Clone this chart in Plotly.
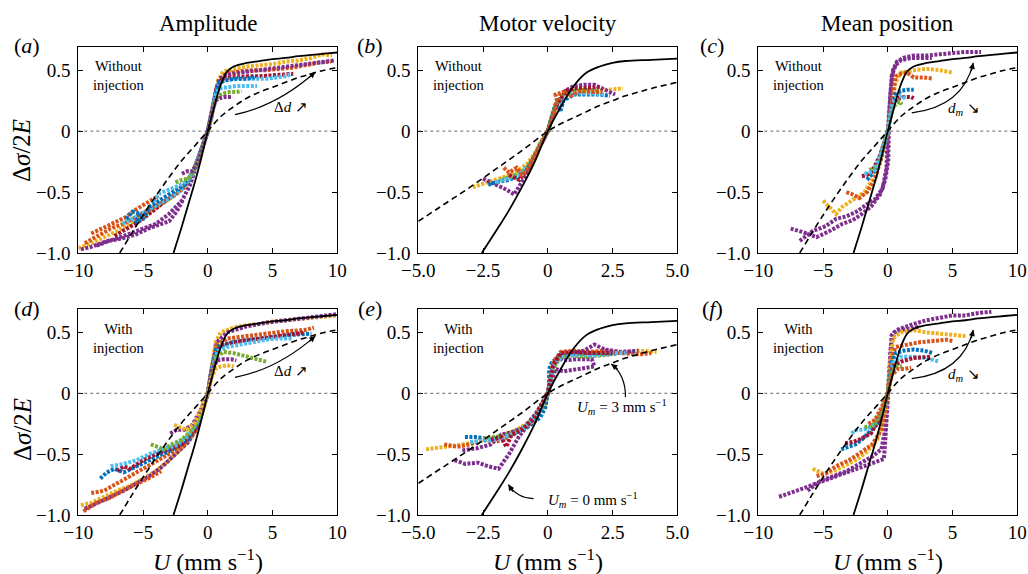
import plotly.graph_objects as go
from plotly.subplots import make_subplots

FONT = "Liberation Serif, Times New Roman, serif"
COL = {"blue": "#0072BD", "orange": "#D95319", "yellow": "#EDB120", "purple": "#7E2F8E",
       "green": "#77AC30", "lblue": "#4DBEEE", "red": "#A2142F"}

# ---------------- model curves ----------------
solid_wide = [(-2.65, -1), (-2, -0.78), (-1.5, -0.6), (-1, -0.42), (-0.5, -0.22), (0, 0), (0.5, 0.2),
              (1, 0.38), (1.5, 0.49), (2, 0.53), (3, 0.56), (4, 0.575), (5, 0.59), (6, 0.6),
              (7, 0.615), (8, 0.625), (9, 0.635), (10, 0.645)]
dash_wide = [(-6.8, -1), (-6, -0.86), (-5, -0.69), (-4, -0.53), (-3, -0.38), (-2, -0.24), (-1, -0.12),
             (0, 0), (1, 0.12), (2, 0.2), (3, 0.27), (4, 0.32), (5, 0.36), (6, 0.4), (7, 0.44),
             (8, 0.47), (9, 0.5), (10, 0.52)]
solid_vel = [(-2.55, -1), (-2, -0.82), (-1.5, -0.65), (-1, -0.46), (-0.5, -0.25), (0, 0), (0.5, 0.2),
             (1, 0.37), (1.5, 0.48), (2, 0.53), (2.5, 0.56), (3, 0.575), (4, 0.585), (5, 0.595)]
dash_vel = [(-5, -0.74), (-4, -0.6), (-3, -0.46), (-2, -0.31), (-1, -0.16), (0, 0), (0.5, 0.06),
            (1, 0.11), (1.5, 0.16), (2, 0.21), (2.5, 0.25), (3, 0.29), (3.5, 0.32), (4, 0.35), (5, 0.4)]

# ---------------- measured trajectories (colour, points) ----------------
panel_a = [
    ("yellow", [(-10, -0.96), (-9, -0.92), (-8, -0.87), (-7, -0.82), (-6, -0.76), (-5, -0.69), (-4, -0.63), (-3, -0.56), (-2.2, -0.5), (-1.6, -0.44), (-1, -0.3), (-0.5, -0.15), (0, 0), (0.3, 0.13), (0.55, 0.28), (0.8, 0.42), (1.2, 0.49), (2, 0.51), (3, 0.53), (4, 0.54), (5, 0.55), (6, 0.57), (7, 0.58), (8, 0.6), (8.8, 0.63), (9.6, 0.62)]),
    ("orange", [(-9.5, -0.92), (-8.5, -0.86), (-7.5, -0.8), (-6.5, -0.76), (-5.5, -0.7), (-4.5, -0.64), (-3.5, -0.58), (-2.6, -0.53), (-1.8, -0.46), (-1.1, -0.32), (-0.6, -0.18), (0, 0), (0.3, 0.12), (0.6, 0.3), (0.9, 0.42), (1.4, 0.47), (2.5, 0.49), (3.5, 0.5), (4.5, 0.5), (5.5, 0.51), (6.5, 0.52), (7.5, 0.54), (8.5, 0.56), (9.5, 0.57)]),
    ("orange", [(-9, -0.84), (-8.2, -0.8), (-7.3, -0.76), (-6.4, -0.71), (-5.5, -0.64), (-4.6, -0.58), (-3.8, -0.53)]),
    ("purple", [(-9.8, -0.97), (-9, -0.95), (-8, -0.91), (-7, -0.88), (-6, -0.84), (-5, -0.8), (-4, -0.76), (-3, -0.68), (-2, -0.57), (-1.4, -0.45), (-0.9, -0.3), (-0.4, -0.13), (0, 0), (0.3, 0.15), (0.6, 0.32), (0.9, 0.43), (1.5, 0.46), (2.5, 0.48), (4, 0.5), (5, 0.51), (6, 0.53), (7, 0.54), (8, 0.55), (9, 0.57), (9.8, 0.58)]),
    ("purple", [(-8.6, -0.94), (-7.6, -0.9), (-6.6, -0.88), (-5.6, -0.85), (-4.6, -0.8), (-3.8, -0.77), (-3, -0.74), (-2.4, -0.66), (-1.9, -0.56)]),
    ("red", [(-7.2, -0.86), (-6.3, -0.8), (-5.3, -0.74), (-4.3, -0.66), (-3.3, -0.58), (-2.4, -0.5), (-1.6, -0.43), (-1, -0.3), (-0.5, -0.15), (0, 0), (0.3, 0.14), (0.7, 0.36), (1.1, 0.43), (2, 0.44), (3, 0.45), (4, 0.45), (5, 0.46), (6, 0.47), (6.6, 0.47)]),
    ("lblue", [(-6.6, -0.76), (-5.8, -0.72), (-4.8, -0.66), (-3.8, -0.6), (-2.8, -0.54), (-1.9, -0.47), (-1.2, -0.36), (-0.6, -0.18), (0, 0), (0.4, 0.18), (0.8, 0.38), (1.3, 0.42), (2.5, 0.43), (3.5, 0.43), (4.5, 0.43), (5.3, 0.44), (6, 0.45), (6.5, 0.47)]),
    ("blue", [(-6.3, -0.72), (-5.8, -0.66), (-5.2, -0.68), (-5.6, -0.75), (-5, -0.72), (-4.5, -0.62), (-3.6, -0.56), (-2.7, -0.5), (-1.8, -0.44), (-1.1, -0.33), (-0.5, -0.16), (0, 0), (0.3, 0.14), (0.6, 0.3), (0.9, 0.4), (1.5, 0.42), (2.2, 0.43), (3, 0.43), (3.6, 0.44)]),
    ("lblue", [(-4.2, -0.58), (-3.7, -0.51), (-3, -0.48), (-2.3, -0.45), (-1.6, -0.41), (-1, -0.3), (-0.5, -0.15), (0, 0), (0.3, 0.14), (0.6, 0.3), (0.9, 0.35), (1.5, 0.36), (2.2, 0.37), (3, 0.37), (3.8, 0.37)]),
    ("green", [(-2.5, -0.42), (-2, -0.4), (-1.5, -0.39), (-1, -0.31), (-0.5, -0.16), (0, 0), (0.3, 0.14), (0.5, 0.24), (0.8, 0.29), (1.2, 0.31), (1.7, 0.32), (2.2, 0.32), (2.6, 0.33)]),
    ("purple", [(-2, -0.35), (-1.6, -0.33), (-1.2, -0.33), (-0.8, -0.26), (-0.4, -0.13), (0, 0), (0.3, 0.15), (0.6, 0.25), (0.9, 0.27), (1.3, 0.28), (1.8, 0.28)]),
]

panel_b = [
    ("yellow", [(-2.9, -0.46), (-2.6, -0.44), (-2.3, -0.42), (-2, -0.4), (-1.6, -0.37), (-1.2, -0.33), (-0.8, -0.27), (-0.4, -0.15), (0, 0), (0.2, 0.12), (0.4, 0.25), (0.7, 0.31), (1.2, 0.32), (1.8, 0.33), (2.4, 0.34), (2.9, 0.35)]),
    ("purple", [(-2.5, -0.39), (-2.2, -0.42), (-1.9, -0.45), (-1.6, -0.48), (-1.3, -0.52), (-1.1, -0.45), (-0.8, -0.35), (-0.4, -0.16), (0, 0), (0.3, 0.2), (0.6, 0.32), (1, 0.37), (1.4, 0.38), (1.8, 0.38), (2.2, 0.34), (2.6, 0.3)]),
    ("blue", [(-2.3, -0.44), (-2, -0.42), (-1.5, -0.4), (-1, -0.36), (-0.6, -0.25), (-0.3, -0.12), (0, 0), (0.15, 0.12), (0.3, 0.22), (0.5, 0.17), (0.6, 0.25), (1, 0.3), (1.5, 0.3), (2, 0.3), (2.4, 0.29)]),
    ("green", [(-1.8, -0.4), (-1.4, -0.37), (-1, -0.34), (-0.6, -0.24), (-0.3, -0.1), (0, 0), (0.3, 0.22), (0.6, 0.3), (1, 0.33), (1.5, 0.34), (2, 0.33)]),
    ("lblue", [(-2, -0.42), (-1.6, -0.39), (-1.1, -0.36), (-0.7, -0.27), (-0.3, -0.12), (0, 0), (0.3, 0.2), (0.7, 0.29), (1.2, 0.31), (1.7, 0.31), (2.2, 0.3)]),
    ("red", [(-1.5, -0.36), (-1.1, -0.4), (-0.8, -0.32), (-0.4, -0.16), (0, 0), (0.3, 0.2), (0.7, 0.33), (1.1, 0.35), (1.6, 0.36), (2, 0.36)]),
    ("orange", [(-1.7, -0.3), (-1.5, -0.34), (-1.2, -0.3), (-1, -0.36), (-0.8, -0.32), (-0.5, -0.2), (-0.2, -0.08), (0, 0), (0.2, 0.12), (0.35, 0.25), (0.3, 0.3), (0.6, 0.32), (0.9, 0.29), (1.3, 0.33), (1.7, 0.32), (2.1, 0.32)]),
]

panel_c = [
    ("purple", [(-7.5, -0.8), (-6.5, -0.83), (-5.5, -0.87), (-4.5, -0.82), (-3.5, -0.76), (-2.7, -0.73), (-2, -0.68), (-1.3, -0.62), (-0.6, -0.52), (-0.2, -0.4), (0.03, -0.25), (0.05, -0.1), (0.1, 0.1), (0.2, 0.3), (0.4, 0.5), (0.7, 0.57), (1.2, 0.6), (2, 0.62), (3, 0.62), (4, 0.63), (5, 0.64), (6, 0.65), (7.2, 0.65)]),
    ("purple", [(-6.8, -0.9), (-5.8, -0.82), (-4.8, -0.78), (-4, -0.72), (-3.2, -0.7), (-2.4, -0.66), (-1.6, -0.6), (-1, -0.56), (-0.4, -0.47), (-0.1, -0.3), (0, 0), (0.15, 0.25), (0.3, 0.45), (0.6, 0.54), (1, 0.58), (1.8, 0.6), (2.6, 0.6), (3.4, 0.6)]),
    ("yellow", [(-5, -0.57), (-4.5, -0.62), (-4, -0.68), (-3.5, -0.62), (-3, -0.58), (-2.5, -0.55), (-1.8, -0.5), (-1.2, -0.4), (-0.6, -0.25), (0, 0), (0.3, 0.2), (0.6, 0.4), (1, 0.48), (2, 0.5), (3, 0.51), (4, 0.5), (5, 0.48)]),
    ("orange", [(-3.2, -0.5), (-2.7, -0.52), (-2.2, -0.55), (-1.6, -0.5), (-1, -0.4), (-0.5, -0.22), (0, 0), (0.3, 0.25), (0.6, 0.45), (1, 0.47), (1.5, 0.48), (2, 0.44), (2.8, 0.44), (3.5, 0.43)]),
    ("blue", [(-1.6, -0.4), (-1.2, -0.35), (-0.8, -0.28), (-0.4, -0.15), (0, 0), (0.3, 0.2), (0.6, 0.3), (1, 0.33), (1.5, 0.34), (2, 0.34)]),
    ("red", [(-2, -0.37), (-1.6, -0.36), (-1.2, -0.33), (-0.6, -0.2), (0, 0), (0.4, 0.22), (0.8, 0.27), (1.3, 0.28), (1.8, 0.28), (2, 0.27)]),
    ("green", [(-1.4, -0.32), (-1.1, -0.3), (-0.8, -0.3), (-0.4, -0.15), (0, 0), (0.3, 0.17), (0.6, 0.22), (0.9, 0.24), (1.1, 0.22)]),
    ("lblue", [(-1.8, -0.35), (-1.4, -0.34), (-1, -0.32), (-0.5, -0.18), (0, 0), (0.3, 0.2), (0.7, 0.28), (1.1, 0.29), (1.4, 0.26)]),
]

panel_d = [
    ("yellow", [(-9.8, -0.92), (-9, -0.9), (-8, -0.85), (-7, -0.8), (-6, -0.76), (-5, -0.7), (-4, -0.64), (-3, -0.55), (-2, -0.45), (-1.2, -0.35), (-0.6, -0.2), (0, 0), (0.3, 0.2), (0.6, 0.42), (1, 0.5), (2, 0.54), (3, 0.56), (4, 0.57), (5, 0.59), (6, 0.6), (7, 0.61), (8, 0.62), (9, 0.63), (10, 0.64)]),
    ("purple", [(-9.5, -0.95), (-8.5, -0.9), (-7.5, -0.85), (-6.5, -0.8), (-5.5, -0.74), (-4.5, -0.68), (-3.5, -0.6), (-2.5, -0.5), (-1.5, -0.4), (-0.8, -0.28), (0, 0), (0.3, 0.2), (0.7, 0.42), (1.5, 0.5), (3, 0.55), (4.5, 0.58), (6, 0.6), (7.5, 0.62), (9, 0.64), (10, 0.65)]),
    ("orange", [(-9, -0.82), (-8, -0.8), (-7, -0.74), (-6, -0.68), (-5, -0.62), (-4, -0.56), (-3, -0.5), (-2, -0.44), (-1, -0.32), (-0.4, -0.15), (0, 0), (0.3, 0.2), (0.7, 0.4), (1.5, 0.45), (3, 0.47), (4.5, 0.49), (6, 0.51), (7.5, 0.52), (8.2, 0.54)]),
    ("orange", [(-9.6, -0.97), (-8.6, -0.9), (-7.6, -0.86), (-6.6, -0.8), (-5.6, -0.75), (-4.6, -0.7), (-3.6, -0.64)]),
    ("blue", [(-8.3, -0.7), (-7.8, -0.65), (-7.2, -0.62), (-6.5, -0.65), (-5.5, -0.6), (-4.5, -0.55), (-3.5, -0.5), (-2.5, -0.45), (-1.5, -0.38), (-0.8, -0.25), (0, 0), (0.3, 0.2), (0.7, 0.38), (1.5, 0.41), (2.5, 0.43), (3.5, 0.44), (5, 0.46), (6.5, 0.48), (8, 0.49)]),
    ("red", [(-7, -0.64), (-6.5, -0.6), (-6, -0.62), (-5, -0.55), (-4, -0.5), (-3, -0.46), (-2, -0.42), (-1, -0.3), (0, 0), (0.4, 0.22), (0.9, 0.38), (2, 0.42), (3.5, 0.44), (5, 0.46), (6.5, 0.48), (7.5, 0.5)]),
    ("lblue", [(-7.5, -0.6), (-6.5, -0.58), (-5.5, -0.55), (-4.5, -0.5), (-3.5, -0.46), (-2.5, -0.43), (-1.5, -0.35), (-0.7, -0.22), (0, 0), (0.3, 0.2), (0.8, 0.35), (1.5, 0.38), (2.5, 0.4), (3.5, 0.42), (4.5, 0.44), (5.5, 0.45), (6.5, 0.45)]),
    ("green", [(-4.4, -0.42), (-3.9, -0.44), (-3.4, -0.46), (-2.8, -0.42), (-2, -0.38), (-1.2, -0.3), (-0.5, -0.18), (0, 0), (0.3, 0.18), (0.7, 0.3), (1.2, 0.34), (2, 0.33), (3, 0.3), (4, 0.27), (4.5, 0.26)]),
    ("purple", [(-2.9, -0.33), (-2.4, -0.3), (-1.8, -0.3), (-1.2, -0.26), (-0.6, -0.15), (0, 0), (0.3, 0.18), (0.7, 0.27), (1.2, 0.28), (1.8, 0.28), (2.2, 0.27)]),
    ("yellow", [(-2.6, -0.26), (-2.1, -0.28), (-1.6, -0.3), (-1, -0.24), (-0.5, -0.13), (0, 0), (0.3, 0.13), (0.6, 0.2), (1, 0.22), (1.5, 0.23), (2, 0.22)]),
]

panel_e = [
    ("yellow", [(-4.7, -0.46), (-4.2, -0.45), (-3.6, -0.43), (-3, -0.41), (-2.4, -0.38), (-1.8, -0.35), (-1.2, -0.3), (-0.6, -0.22), (-0.1, -0.1), (0, 0), (0.1, 0.15), (0.3, 0.28), (0.8, 0.33), (1.5, 0.34), (2.3, 0.34), (3, 0.34), (3.6, 0.35), (4.2, 0.34)]),
    ("blue", [(-3.2, -0.36), (-2.8, -0.36), (-2.4, -0.37), (-1.9, -0.36), (-1.4, -0.33), (-0.8, -0.28), (-0.3, -0.2), (-0.1, -0.12), (-0.05, -0.06), (0.05, 0.05), (0.05, 0.2), (0.15, 0.25), (0.5, 0.32), (1, 0.32), (1.6, 0.33), (2.2, 0.32), (2.8, 0.33), (3.4, 0.34)]),
    ("orange", [(-4, -0.42), (-3.5, -0.44), (-3, -0.42), (-2.5, -0.38), (-2, -0.4), (-1.5, -0.36), (-1, -0.3), (-0.5, -0.22), (0, 0), (0.2, 0.25), (0.5, 0.34), (1, 0.35), (1.6, 0.34), (2.2, 0.35), (2.8, 0.33), (3.5, 0.32), (4, 0.33)]),
    ("purple", [(-3.6, -0.55), (-3.2, -0.58), (-2.7, -0.57), (-2.3, -0.6), (-1.9, -0.62), (-1.5, -0.5), (-1.1, -0.35), (-0.6, -0.22), (0, 0), (0.3, 0.28), (0.8, 0.32), (1.4, 0.35), (1.8, 0.4), (2.2, 0.36), (2.8, 0.34), (3.5, 0.35)]),
    ("purple", [(-3.3, -0.47), (-2.7, -0.45), (-2.2, -0.42), (-1.8, -0.34), (-1.4, -0.32), (-0.9, -0.28), (-0.4, -0.15), (0, 0), (0.3, 0.2), (0.6, 0.18), (1.2, 0.2), (1.8, 0.22), (1.7, 0.28), (1.1, 0.28), (0.6, 0.27), (0.4, 0.3)]),
    ("green", [(-2.5, -0.37), (-2, -0.36), (-1.5, -0.34), (-1, -0.3), (-0.5, -0.2), (0, 0), (0.2, 0.2), (0.5, 0.3), (1, 0.31), (1.5, 0.3), (2, 0.31), (2.5, 0.32)]),
    ("lblue", [(-3, -0.4), (-2.5, -0.39), (-2, -0.38), (-1.5, -0.35), (-1, -0.3), (-0.4, -0.18), (0, 0), (0.2, 0.22), (0.6, 0.31), (1.2, 0.32), (1.8, 0.31), (2.5, 0.33), (3, 0.33)]),
    ("red", [(-2.2, -0.38), (-1.8, -0.36), (-1.6, -0.44), (-1.4, -0.34), (-1, -0.3), (-0.5, -0.2), (0, 0), (0.2, 0.22), (0.5, 0.33), (1, 0.34), (1.5, 0.33), (2, 0.33), (2.5, 0.33)]),
]

panel_f = [
    ("purple", [(-8.4, -0.85), (-7.5, -0.82), (-6.5, -0.78), (-5.5, -0.74), (-4.5, -0.7), (-3.5, -0.66), (-2.5, -0.62), (-1.5, -0.58), (-0.8, -0.56), (-0.3, -0.54), (-0.2, -0.4), (-0.1, -0.2), (0, 0), (0.15, 0.25), (0.3, 0.48), (0.7, 0.52), (1.2, 0.54), (2, 0.57), (3, 0.6), (4, 0.62), (5, 0.64), (6, 0.64), (7, 0.66), (8, 0.67)]),
    ("purple", [(-6.2, -0.8), (-5.2, -0.72), (-4.2, -0.68), (-3.2, -0.64), (-2.2, -0.58), (-1.2, -0.52), (-0.5, -0.46), (-0.2, -0.3), (0, 0), (0.25, 0.4), (0.5, 0.5), (1, 0.52), (1.8, 0.53), (2.5, 0.55)]),
    ("yellow", [(-5.8, -0.62), (-5, -0.66), (-4.2, -0.64), (-3.5, -0.6), (-2.5, -0.55), (-1.6, -0.48), (-0.8, -0.38), (-0.3, -0.2), (0, 0), (0.2, 0.25), (0.4, 0.45), (1, 0.5), (2, 0.52), (3, 0.5), (4, 0.49), (5, 0.48), (6, 0.47)]),
    ("orange", [(-5.5, -0.68), (-4.8, -0.66), (-4, -0.6), (-3, -0.55), (-2, -0.48), (-1.2, -0.42), (-0.5, -0.3), (0, 0), (0.3, 0.3), (0.6, 0.38), (1.5, 0.4), (2.5, 0.42), (3.5, 0.43), (4.5, 0.44), (5, 0.43)]),
    ("blue", [(-3.6, -0.46), (-3, -0.44), (-2.5, -0.42), (-2, -0.38), (-1.4, -0.32), (-0.8, -0.25), (-0.3, -0.12), (0, 0), (0.3, 0.25), (0.6, 0.33), (1.2, 0.35), (2, 0.36), (2.8, 0.35), (3.5, 0.33)]),
    ("lblue", [(-2.8, -0.33), (-2.4, -0.3), (-1.9, -0.3), (-1.3, -0.28), (-0.7, -0.2), (0, 0), (0.4, 0.25), (1, 0.3), (2, 0.3), (3, 0.29), (3.6, 0.27), (4, 0.26)]),
    ("red", [(-3.3, -0.41), (-2.7, -0.4), (-2.2, -0.38), (-1.8, -0.36), (-1.3, -0.33), (-0.7, -0.22), (0, 0), (0.4, 0.22), (1, 0.26), (2, 0.29), (2.8, 0.3), (3.3, 0.3)]),
    ("green", [(-1.8, -0.28), (-1.4, -0.27), (-1, -0.25), (-0.5, -0.15), (0, 0), (0.3, 0.18), (0.7, 0.22), (1.1, 0.22)]),
    ("orange", [(-1.5, -0.25), (-1, -0.22), (-0.5, -0.12), (0, 0), (0.3, 0.15), (0.8, 0.2), (1.3, 0.2), (1.8, 0.21)]),
]

column_titles = ["Amplitude", "Motor velocity", "Mean position"]
panel_letters = ["a", "b", "c", "d", "e", "f"]
wide_ticks = [-10, -5, 0, 5, 10]
wide_ticktext = ["\u221210", "\u22125", "0", "5", "10"]
vel_ticks = [-5, -2.5, 0, 2.5, 5]
vel_ticktext = ["\u22125.0", "\u22122.5", "0", "2.5", "5.0"]
y_ticks = [-1, -0.5, 0, 0.5]
y_ticktext = ["\u22121.0", "\u22120.5", "0", "0.5"]

# ---------------- figure ----------------
W, H = 1028, 574
fig = make_subplots(rows=2, cols=3)

col_px = [(78.3, 337.3), (418.3, 677.3), (758.3, 1017.3)]
row_px = [(47.0, 253.0), (309.3, 515.0)]


def ann(**kw):
    kw.setdefault("xanchor", "center")
    kw.setdefault("yanchor", "middle")
    kw.setdefault("showarrow", False)
    fig.add_annotation(**kw)


panels = [panel_a, panel_b, panel_c, panel_d, panel_e, panel_f]
for i, series in enumerate(panels):
    r, c = i // 3 + 1, i % 3 + 1
    for cname, pts in series:
        fig.add_trace(go.Scatter(x=[p[0] for p in pts], y=[p[1] for p in pts], mode="lines",
                                 line=dict(color=COL[cname], width=4, dash="3px,1.5px"),
                                 showlegend=False, hoverinfo="skip"), row=r, col=c)
    vel = (c == 2)
    sol = solid_vel if vel else solid_wide
    dsh = dash_vel if vel else dash_wide
    fig.add_trace(go.Scatter(x=[p[0] for p in dsh], y=[p[1] for p in dsh], mode="lines",
                             line=dict(color="black", width=1.6, dash="6px,4px", shape="spline"),
                             showlegend=False), row=r, col=c)
    fig.add_trace(go.Scatter(x=[p[0] for p in sol], y=[p[1] for p in sol], mode="lines",
                             line=dict(color="black", width=1.8, shape="spline"),
                             showlegend=False), row=r, col=c)

for i in range(6):
    r, c = i // 3, i % 3
    n = "" if i == 0 else str(i + 1)
    vel = (c == 1)
    x0, x1 = col_px[c]
    y0, y1 = row_px[r]
    fig.layout["xaxis" + n].update(
        domain=[x0 / W, x1 / W], range=[-5, 5] if vel else [-10, 10], automargin=False,
        tickvals=vel_ticks if vel else wide_ticks, ticktext=vel_ticktext if vel else wide_ticktext,
        showline=True, mirror="ticks", linecolor="black", linewidth=1, ticks="inside", ticklen=5,
        tickcolor="black", showgrid=False, zeroline=False,
        tickfont=dict(family=FONT, size=19, color="black"))
    fig.layout["yaxis" + n].update(
        domain=[1 - y1 / H, 1 - y0 / H], range=[-1, 0.69], automargin=False,
        tickvals=y_ticks, ticktext=y_ticktext,
        showline=True, mirror="ticks", linecolor="black", linewidth=1, ticks="inside", ticklen=5,
        tickcolor="black", showgrid=False, zeroline=False, ticklabelstandoff=3,
        tickfont=dict(family=FONT, size=19, color="black"))
    xr, yr = "x" + n, "y" + n
    fig.add_shape(type="line", xref=xr + " domain", yref=yr, x0=0, x1=1, y0=0, y1=0,
                  line=dict(color="#444", width=0.8, dash="dot"))
    # panel letter
    lx = [27, 370, 712][c]
    ly = [45, 308][r]
    ann(xref="paper", yref="paper", x=lx / W, y=1 - ly / H,
        text="(<i>%s</i>)" % panel_letters[i], font=dict(family=FONT, size=22, color="black"))
    # injection label
    tx = -3.46 if vel else -6.9
    ann(xref=xr, yref=yr, x=tx, y=0.46 if r == 0 else 0.45,
        text="Without<br>injection" if r == 0 else "With<br>injection",
        align="center", font=dict(family=FONT, size=14.5, color="black"))

# column titles / x titles
for c in range(3):
    x0, x1 = col_px[c]
    ann(xref="paper", yref="paper", x=(x0 + x1) / 2 / W, y=1 - 24 / H, text=column_titles[c],
        font=dict(family=FONT, size=23, color="black"))
    ann(xref="paper", yref="paper", x=(x0 + x1) / 2 / W, y=1 - 560 / H,
        text="<i>U</i> (mm s<sup>\u22121</sup>)", font=dict(family=FONT, size=24, color="black"))

for yc in (151, 430):
    ann(xref="paper", yref="paper", x=22 / W, y=1 - yc / H, textangle=-90,
        text="\u0394<i>\u03c3</i>/2<i>E</i>", font=dict(family=FONT, size=25, color="black"))


def curved_arrow(xr, yr, p0, p1, p2, ax, ay):
    fig.add_shape(type="path", xref=xr, yref=yr,
                  path="M %g,%g Q %g,%g %g,%g" % (p0[0], p0[1], p1[0], p1[1], p2[0], p2[1]),
                  line=dict(color="black", width=1.2))
    fig.add_annotation(xref=xr, yref=yr, x=p2[0], y=p2[1], ax=ax, ay=ay, text="",
                       showarrow=True, arrowhead=2, arrowsize=1, arrowwidth=1.2, arrowcolor="black")


LBL = dict(family=FONT, size=15, color="black")
curved_arrow("x", "y", (2.1, 0.135), (5.4, 0.21), (8.3, 0.485), -7.5, 6.7)
ann(xref="x", yref="y", x=6.4, y=0.2, text="\u0394<i>d</i> \u2197", font=LBL)
curved_arrow("x4", "y4", (2.1, 0.13), (5.4, 0.2), (8.3, 0.47), -7.5, 6.7)
ann(xref="x4", yref="y4", x=6.4, y=0.18, text="\u0394<i>d</i> \u2197", font=LBL)
curved_arrow("x3", "y3", (1.85, 0.15), (5.8, 0.2), (6.6, 0.56), -2.3, 9.7)
ann(xref="x3", yref="y3", x=5.9, y=0.18, text="<i>d<sub>m</sub></i> \u2198", font=LBL)
curved_arrow("x6", "y6", (1.85, 0.12), (5.8, 0.17), (6.6, 0.52), -2.3, 9.7)
ann(xref="x6", yref="y6", x=5.9, y=0.15, text="<i>d<sub>m</sub></i> \u2198", font=LBL)

curved_arrow("x5", "y5", (3.0, -0.03), (3.0, 0.15), (2.45, 0.24), 7.9, 6.1)
ann(xref="x5", yref="y5", x=2.88, y=-0.11, text="<i>U<sub>m</sub></i> = 3 mm s<sup>\u22121</sup>", font=LBL)
curved_arrow("x5", "y5", (-0.55, -0.865), (-1.2, -0.86), (-1.52, -0.75), 5.3, 8.5)
ann(xref="x5", yref="y5", x=1.75, y=-0.876, text="<i>U<sub>m</sub></i> = 0 mm s<sup>\u22121</sup>", font=LBL)

fig.update_layout(width=W, height=H, margin=dict(l=0, r=0, t=0, b=0),
                  paper_bgcolor="white", plot_bgcolor="white",
                  font=dict(family=FONT, color="black"), showlegend=False)

fig.write_html("out.html")
